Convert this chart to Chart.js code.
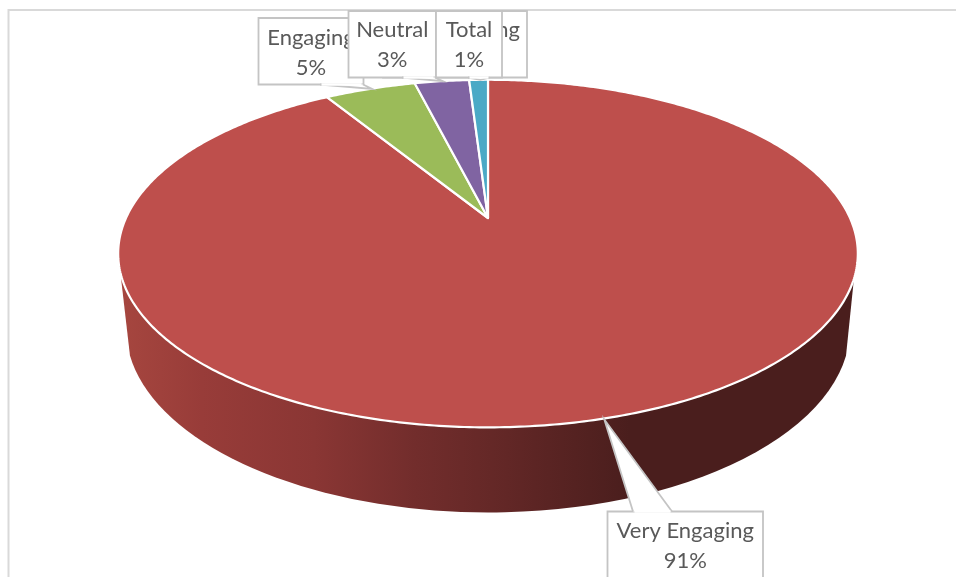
<!DOCTYPE html>
<html>
<head>
<meta charset="utf-8">
<title>Engagement</title>
<script src="https://cdn.jsdelivr.net/npm/chart.js@4"></script>
<style>
  html, body { margin: 0; padding: 0; background: #fff; overflow: hidden; }
  canvas { display: block; }
</style>
</head>
<body>
<canvas id="pie" width="956" height="577"></canvas>
<script>
// Chart data, clockwise from the top of the pie (labels are rounded)
const categories = ['Very Engaging', 'Engaging', 'Neutral', 'Not Engaging', 'Total'];
const shares = [91.25, 4.85, 2.9, 0, 1];
const sliceColors = ['#BE4F4C', '#9BBB59', '#8064A2', '#4BACC6', '#4AA9C6'];

// Order the callouts are stacked in, bottom one first
const calloutOrder = [3, 0, 1, 2, 4];

// Callout boxes: x, y, w, h, then the part of the bottom/top edge the pointer leaves from
const calloutBoxes = {
  0: { x: 607.5, y: 511.5, w: 155.5, h: 90, baseFrom: 633, baseTo: 672, baseY: 511.5, nudge: -6, drop: 2, textY: 531 },
  1: { x: 258.5, y: 18, w: 105, h: 66.5, baseFrom: 320, baseTo: 363, baseY: 84.5, nudge: 2, drop: 0, textY: 38 },
  2: { x: 348.5, y: 11, w: 87.5, h: 66.5, baseFrom: 402, baseTo: 435, baseY: 77.5, nudge: 1, drop: 0, textY: 30 },
  3: { x: 383, y: 11, w: 144, h: 66.5, textY: 30 },
  4: { x: 436, y: 11, w: 66, h: 66.5, baseFrom: 468, baseTo: 490, baseY: 77.5, nudge: 2, drop: 0, textY: 30 }
};

const TEXT_COLOR = '#595959';
const BORDER_COLOR = '#C4C4C4';
const FONT = '22px Lato';
const LINE_HEIGHT = 29.5;

// Perspective of the tilted pie: the apex sits above the centre of the visible ellipse
const DEPTH = 0.2046;
const FLATTEN = 0.46;

// Project a point of the flat Chart.js arc onto the tilted disc
function project(arc, angle) {
  const w = 1 - DEPTH * Math.sin(angle);
  return {
    x: arc.x + arc.outerRadius * Math.cos(angle) / w,
    y: arc.y + arc.outerRadius * FLATTEN * Math.sin(angle) / w
  };
}

function drawFrame(ctx) {
  ctx.strokeStyle = '#D9D9D9';
  ctx.lineWidth = 2;
  ctx.beginPath();
  ctx.moveTo(8.5, 577);
  ctx.lineTo(8.5, 10);
  ctx.lineTo(956, 10);
  ctx.stroke();
}

// Side of the pie, only the big slice shows it
function drawWall(ctx, arc) {
  const wall = ctx.createLinearGradient(120, 0, 630, 0);
  wall.addColorStop(0, '#A6463F');
  wall.addColorStop(0.16, '#983C39');
  wall.addColorStop(0.38, '#8A3634');
  wall.addColorStop(0.58, '#722D2C');
  wall.addColorStop(0.76, '#622726');
  wall.addColorStop(1, '#4A1E1D');
  const tangent = 0.1487;
  ctx.fillStyle = wall;
  ctx.beginPath();
  ctx.moveTo(arc.x + 366, 278);
  ctx.ellipse(arc.x, 328.5, 362, 184, 0, tangent, Math.PI - tangent);
  ctx.lineTo(arc.x - 367, 278);
  ctx.closePath();
  ctx.fill();
}

function drawSlice(ctx, arc, color) {
  const steps = Math.max(2, Math.ceil((arc.endAngle - arc.startAngle) * 90));
  ctx.beginPath();
  ctx.moveTo(arc.x, arc.y);
  for (let i = 0; i <= steps; i++) {
    const p = project(arc, arc.startAngle + (arc.endAngle - arc.startAngle) * i / steps);
    ctx.lineTo(p.x, p.y);
  }
  ctx.closePath();
  ctx.fillStyle = color;
  ctx.fill();
  ctx.strokeStyle = '#fff';
  ctx.lineWidth = 2.2;
  ctx.lineJoin = 'round';
  ctx.stroke();
}

function drawCallout(ctx, arc, index) {
  const box = calloutBoxes[index];
  ctx.fillStyle = '#fff';
  ctx.strokeStyle = BORDER_COLOR;
  ctx.lineWidth = 1.8;
  ctx.lineJoin = 'miter';
  ctx.beginPath();
  ctx.rect(box.x, box.y, box.w, box.h);
  ctx.fill();
  ctx.stroke();

  // Pointer goes to the rim in the middle of the slice
  if (shares[index] > 0) {
    const tip = project(arc, (arc.startAngle + arc.endAngle) / 2);
    ctx.beginPath();
    ctx.moveTo(box.baseFrom, box.baseY);
    ctx.lineTo(tip.x + box.nudge, tip.y + box.drop);
    ctx.lineTo(box.baseTo, box.baseY);
    ctx.fill();
    ctx.stroke();
    // hide the box edge under the pointer
    ctx.strokeStyle = '#fff';
    ctx.lineWidth = 2.4;
    ctx.beginPath();
    ctx.moveTo(box.baseFrom + 1.5, box.baseY);
    ctx.lineTo(box.baseTo - 1.5, box.baseY);
    ctx.stroke();
  }

  ctx.fillStyle = TEXT_COLOR;
  ctx.font = FONT;
  ctx.textAlign = 'center';
  ctx.textBaseline = 'middle';
  const mid = box.x + box.w / 2;
  ctx.fillText(categories[index], mid, box.textY);
  ctx.fillText(Math.round(shares[index]) + '%', mid, box.textY + LINE_HEIGHT);
}

// Chart.js has no 3D pie, so the arcs it lays out are drawn tilted here
const tiltedPie = {
  id: 'tiltedPie',
  beforeDatasetsDraw(chart) {
    const ctx = chart.ctx;
    const arcs = chart.getDatasetMeta(0).data;
    ctx.save();
    drawFrame(ctx);
    drawWall(ctx, arcs[0]);
    arcs.forEach((arc, i) => {
      if (shares[i] > 0) drawSlice(ctx, arc, sliceColors[i]);
    });
    calloutOrder.forEach(i => drawCallout(ctx, arcs[i], i));
    ctx.restore();
    return false;
  }
};

new Chart(document.getElementById('pie'), {
  type: 'pie',
  data: {
    labels: categories,
    datasets: [{
      data: shares,
      backgroundColor: sliceColors,
      radius: 362
    }]
  },
  options: {
    responsive: false,
    animation: false,
    layout: { padding: { left: 20, bottom: 141 } },
    plugins: {
      legend: { display: false },
      tooltip: { enabled: false }
    }
  },
  plugins: [tiltedPie]
});
</script>
</body>
</html>
